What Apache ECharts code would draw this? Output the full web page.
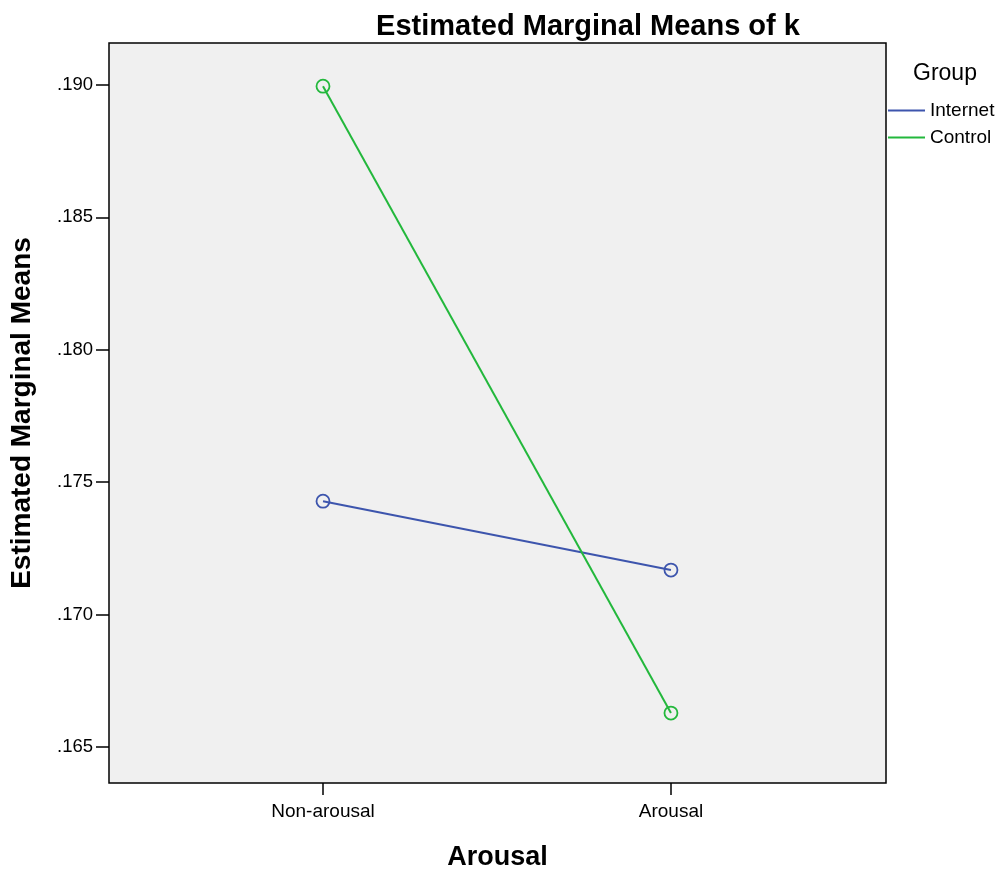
<!DOCTYPE html>
<html>
<head>
<meta charset="utf-8">
<script src="https://cdn.jsdelivr.net/npm/echarts@6/dist/echarts.min.js"></script>
<style>
html,body{margin:0;padding:0;background:#fff;}
#chart{width:1006px;height:869px;}
</style>
</head>
<body>
<div id="chart"></div>
<script>
const categories = ['Non-arousal', 'Arousal'];
const groupNames = ['Internet', 'Control'];
const internetMeans = [0.17428, 0.17168];
const controlMeans = [0.18995, 0.16628];
const yTicks = [0.165, 0.170, 0.175, 0.180, 0.185, 0.190];
const groupColors = ['#3d55ad', '#23b83c'];

const FONT = '"Liberation Sans", Arial, sans-serif';
const chart = echarts.init(document.getElementById('chart'));

function pts(arr) { return arr.map((v, i) => [i, v]); }

function lineSeries(name, values, color) {
  return {
    name: name, type: 'line', data: pts(values),
    symbol: 'circle', symbolSize: 13,
    lineStyle: { width: 2, color: color },
    itemStyle: { color: 'rgba(0,0,0,0)', borderColor: color, borderWidth: 1.8 }
  };
}

const option = {
  animation: false,
  backgroundColor: '#ffffff',
  title: [
    { text: 'Estimated Marginal Means of k', left: 583, top: 7, textAlign: 'center',
      textStyle: { fontFamily: FONT, fontSize: 29, fontWeight: 'bold', color: '#000' } },
    { text: 'Group', left: 908, top: 57,
      textStyle: { fontFamily: FONT, fontSize: 23, fontWeight: 'normal', color: '#000' } }
  ],
  legend: {
    orient: 'vertical', left: 883, top: 96, itemGap: 8,
    itemWidth: 37, itemHeight: 2, icon: 'rect',
    textStyle: { fontFamily: FONT, fontSize: 19, color: '#000', padding: [0, 0, 0, 0] },
    data: groupNames.map((n, i) => ({ name: n, itemStyle: { color: groupColors[i], borderWidth: 0 } }))
  },
  grid: {
    left: 109, top: 43, width: 777, height: 740,
    outerBoundsMode: 'none', containLabel: false,
    show: true, backgroundColor: '#f0f0f0', borderColor: '#000', borderWidth: 1.5
  },
  xAxis: {
    type: 'value', min: -0.615, max: 1.618,
    name: 'Arousal', nameLocation: 'middle', nameGap: 61,
    nameTextStyle: { fontFamily: FONT, fontSize: 27, fontWeight: 'bold', color: '#000' },
    axisLine: { show: false, onZero: false },
    splitLine: { show: false },
    axisTick: { show: true, length: 12, customValues: [0, 1], lineStyle: { color: '#000', width: 1.5 } },
    axisLabel: { customValues: [0, 1], formatter: v => categories[Math.round(v)], fontFamily: FONT, fontSize: 19, color: '#000', margin: 19 }
  },
  yAxis: {
    type: 'value', min: 0.16364, max: 0.19158,
    name: 'Estimated Marginal Means', nameLocation: 'middle', nameGap: 73, nameRotate: 90,
    nameTextStyle: { fontFamily: FONT, fontSize: 28, fontWeight: 'bold', color: '#000' },
    axisLine: { show: false, onZero: false },
    splitLine: { show: false },
    axisTick: { show: true, length: 13, customValues: yTicks, lineStyle: { color: '#000', width: 1.5 } },
    axisLabel: { customValues: yTicks, formatter: v => v.toFixed(3).replace(/^0/, ''), fontFamily: FONT, fontSize: 18.5, color: '#000', margin: 16 }
  },
  series: [
    lineSeries(groupNames[0], internetMeans, groupColors[0]),
    lineSeries(groupNames[1], controlMeans, groupColors[1])
  ]
};
chart.setOption(option);
</script>
</body>
</html>
